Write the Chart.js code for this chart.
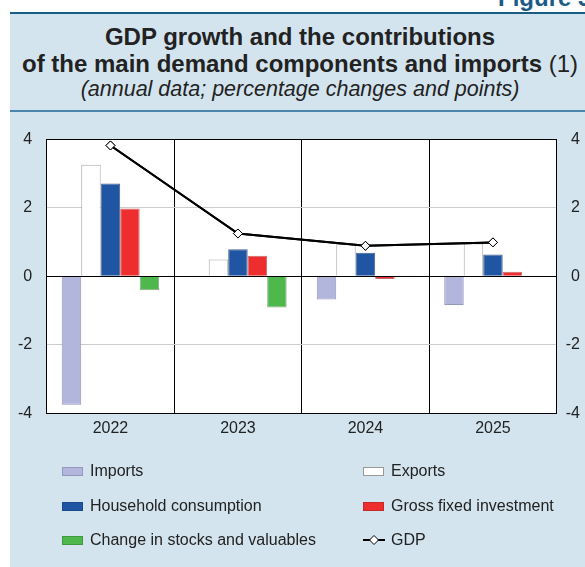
<!DOCTYPE html>
<html>
<head>
<meta charset="utf-8">
<script src="https://cdn.jsdelivr.net/npm/chart.js@4.4.1/dist/chart.umd.min.js"></script>
<style>
  body { margin: 0; width: 585px; height: 567px; overflow: hidden; background: #fff; position: relative;
         font-family: "Liberation Sans", Arial, sans-serif; color: #222; }
  #panel { position: absolute; left: 10px; top: 12px; width: 600px; height: 560px; background: #d3e4ee;
           border-top: 2px solid #1b5c86; }
  #sep { position: absolute; left: 10px; top: 110px; width: 600px; height: 2px; background: #4b87ad; }
  #fig { position: absolute; left: 498px; top: -14px; font: bold 24px/24px "Liberation Sans", Arial, sans-serif;
         color: #1b5c86; white-space: nowrap; }
  .t { position: absolute; left: 0; width: 600px; text-align: center; white-space: nowrap; }
  #t1 { top: 25px; font: bold 24px/24px "Liberation Sans", Arial, sans-serif; }
  #t2 { top: 52px; font: bold 24px/24px "Liberation Sans", Arial, sans-serif; }
  #t2 span { font-weight: normal; }
  #t3 { top: 79px; font: italic 21.5px/21.5px "Liberation Sans", Arial, sans-serif; }
  canvas { position: absolute; left: 0; top: 0; }
  .lg { position: absolute; font: 16px/16px "Liberation Sans", Arial, sans-serif; white-space: nowrap; }
  .lg i { position: absolute; top: 4px; width: 19px; height: 7px; }
  .lg b { font-weight: normal; position: absolute; left: 28px; top: 0; }
</style>
</head>
<body>
<div id="panel"></div>
<div id="sep"></div>
<div id="fig">Figure 3</div>
<div class="t" id="t1">GDP growth and the contributions</div>
<div class="t" id="t2">of the main demand components and imports <span>(1)</span></div>
<div class="t" id="t3">(annual data; percentage changes and points)</div>
<canvas id="myChart" width="585" height="567"></canvas>
<div id="legend"></div>
<script>
const years = ['2022', '2023', '2024', '2025'];
const imports = [-3.75, 0.02, -0.68, -0.84];
const exports = [3.26, 0.49, 0.95, 0.96];
const household = [2.71, 0.79, 0.69, 0.64];
const investment = [1.98, 0.60, -0.08, 0.13];
const stocks = [-0.41, -0.91, 0.02, 0.01];
const gdp = [3.82, 1.25, 0.89, 0.99];
const yTicks = [-4, -2, 0, 2, 4];

Chart.defaults.font.family = '"Liberation Sans", Arial, sans-serif';
Chart.defaults.font.size = 16;
Chart.defaults.color = '#222';

const bar = (label, values, fill, border) => ({
    type: 'bar', label: label, data: values, order: 1,
    backgroundColor: fill, borderColor: border, borderWidth: 1,
    categoryPercentage: 0.764, barPercentage: 1
});

const data = {
    labels: years,
    datasets: [
        bar('Imports', imports, '#b3b6dc', '#9597bd'),
        bar('Exports', exports, '#ffffff', '#aaaaaa'),
        bar('Household consumption', household, '#1f55a3', '#4a6285'),
        bar('Gross fixed investment', investment, '#ee2d2e', '#c76a6a'),
        bar('Change in stocks and valuables', stocks, '#4eb84c', '#8aa88a'),
        {
            type: 'line', label: 'GDP', data: gdp, order: 0,
            borderColor: '#000', borderWidth: 2, tension: 0,
            pointStyle: 'rectRot', pointRadius: 4.5,
            pointBackgroundColor: '#fff', pointBorderColor: '#000', pointBorderWidth: 1
        }
    ]
};

// white plot area + zero line on top of bars
const plotArea = {
    id: 'plotArea',
    beforeDraw(chart) {
        const a = chart.chartArea, c = chart.ctx;
        c.save();
        c.fillStyle = '#fff';
        c.fillRect(a.left, a.top, a.right - a.left, a.bottom - a.top);
        c.restore();
    },
    afterDatasetsDraw(chart) {
        const a = chart.chartArea, c = chart.ctx;
        const y0 = Math.round(chart.scales.y.getPixelForValue(0)) + 0.5;
        c.save();
        c.strokeStyle = '#000';
        c.lineWidth = 1;
        c.beginPath();
        c.moveTo(a.left, y0);
        c.lineTo(a.right, y0);
        c.stroke();
        c.restore();
        // keep the GDP line above the zero line
        chart.getDatasetMeta(5).controller.draw();
    }
};

const config = {
    data: data,
    options: {
        responsive: false,
        animation: false,
        devicePixelRatio: 1,
        layout: { padding: { left: 0, right: 5, top: 139.3, bottom: 123.7 } },
        plugins: { legend: { display: false }, tooltip: { enabled: false } },
        scales: {
            x: {
                grid: { offset: true, color: '#000', drawTicks: false },
                border: { color: '#000' },
                ticks: { padding: 6 },
                afterFit(s) { s.height = 30; }
            },
            y: {
                position: 'left', min: -4, max: 4,
                afterBuildTicks(s) { s.ticks = yTicks.map(v => ({ value: v })); },
                grid: {
                    drawTicks: false,
                    color: ctx => (ctx.tick && Math.abs(ctx.tick.value) === 2) ? '#cccccc' : '#000'
                },
                border: { color: '#000' },
                ticks: { padding: 14.5 },
                afterFit(s) { s.width = 46.7; }
            },
            y2: {
                position: 'right', min: -4, max: 4,
                afterBuildTicks(s) { s.ticks = yTicks.map(v => ({ value: v })); },
                grid: { display: false, drawTicks: false },
                border: { color: '#000' },
                ticks: { crossAlign: 'far' },
                afterFit(s) { s.width = 23.3; }
            }
        }
    },
    plugins: [plotArea]
};

const myChart = new Chart(document.getElementById('myChart'), config);

// legend, two columns
const legendItems = [
    { label: 'Imports', x: 62, y: 463, fill: '#b3b6dc', border: '#9597bd' },
    { label: 'Exports', x: 363, y: 463, fill: '#ffffff', border: '#999' },
    { label: 'Household consumption', x: 62, y: 498, fill: '#1f55a3', border: '#1a4a8e' },
    { label: 'Gross fixed investment', x: 363, y: 498, fill: '#ee2d2e', border: '#c42a2a' },
    { label: 'Change in stocks and valuables', x: 62, y: 532, fill: '#4eb84c', border: '#3f9a3d' },
    { label: 'GDP', x: 363, y: 532, line: true }
];
const lg = document.getElementById('legend');
legendItems.forEach(it => {
    const d = document.createElement('div');
    d.className = 'lg';
    d.style.left = it.x + 'px';
    d.style.top = it.y + 'px';
    if (it.line) {
        d.innerHTML = '<svg width="24" height="16" style="position:absolute;left:0;top:0">' +
            '<line x1="0" y1="8" x2="22" y2="8" stroke="#000" stroke-width="2"/>' +
            '<polygon points="11,3.5 15.5,8 11,12.5 6.5,8" fill="#fff" stroke="#000" stroke-width="1"/></svg>' +
            '<b>' + it.label + '</b>';
    } else {
        d.innerHTML = '<i style="background:' + it.fill + ';border:1px solid ' + it.border + '"></i><b>' + it.label + '</b>';
    }
    lg.appendChild(d);
});
</script>
</body>
</html>
